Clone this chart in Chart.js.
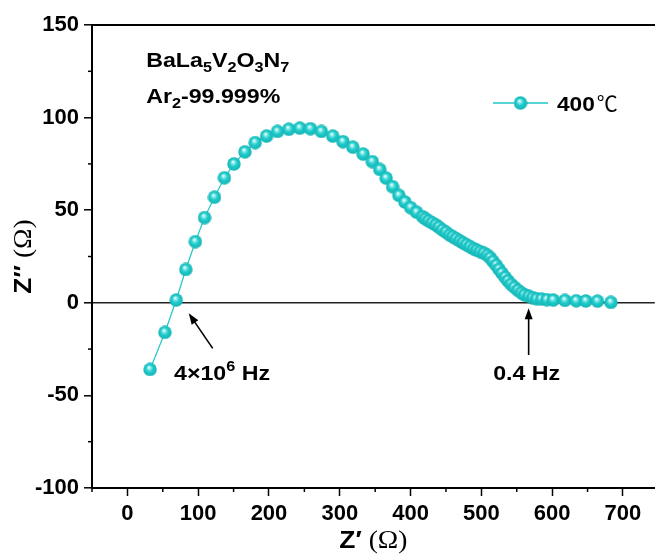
<!DOCTYPE html>
<html><head><meta charset="utf-8">
<script src="https://cdn.jsdelivr.net/npm/chart.js@4.4.1/dist/chart.umd.min.js"></script>
<style>html,body{margin:0;padding:0;background:#fff}</style>
</head><body>
<canvas id="c" width="663" height="558" style="width:663px;height:558px;display:block"></canvas>
<script>
// ---- data (Z' in ohm, Z'' in ohm) ----
const zReal = [32, 53, 69, 82.5, 96, 109, 123, 137, 150.5, 166, 180.5, 196.5, 212, 228, 243.5, 258.5, 274, 290, 304.5, 318.5,
  333, 346, 356.5, 365.5, 374.5, 383.5, 392, 400, 408.5, 417, 421, 425.5, 430.5, 435.5, 440, 445, 450, 455, 459.5, 464.5,
  469.5, 474, 479, 484, 489, 493.5, 498.5, 503.5, 508.5, 512.5, 516.5, 521, 525, 529, 533.5, 537.5, 542, 546.5, 551.5, 556.5,
  561, 567, 572.5, 578, 585, 592.5, 601.5, 618, 634, 647.5, 664, 683];
const zImag = [-36, -16, 1.5, 18, 33, 46, 57, 67.5, 75, 81.5, 86.5, 90, 92.5, 93.7, 94.3, 94, 92.5, 90, 87, 84,
  80.3, 76.2, 72, 67.3, 62.7, 58, 54.4, 51.4, 48.9, 46.5, 45.4, 44.3, 43.2, 42.1, 40.8, 39.4, 38.1, 36.7, 35.7, 34.6,
  33.5, 32.4, 31.4, 30.3, 29.2, 28.4, 27.6, 26.8, 25.7, 24.3, 22.4, 20.3, 18.1, 16, 13.8, 11.9, 10, 8.4, 6.8, 5.4,
  4.3, 3.6, 2.8, 2.2, 2.0, 1.7, 1.5, 1.3, 1.1, 1.0, 0.9, 0.2];
const seriesName = '400';
const seriesUnit = '℃';
const xTickValues = [0, 100, 200, 300, 400, 500, 600, 700];
const yTickValues = [-100, -50, 0, 50, 100, 150];
const xMinorTicks = [-50, 50, 150, 250, 350, 450, 550, 650];
const yMinorTicks = [-75, -25, 25, 75, 125];

const CYAN = '#1fc6c6';
const SANS = '"Liberation Sans", Arial, sans-serif';
const SERIF = '"Liberation Serif", "DejaVu Serif", serif';

function makeBead(d){
  const c = document.createElement('canvas'); c.width = c.height = d;
  const g = c.getContext('2d'); const r = d/2;
  const grad = g.createRadialGradient(r*0.85, r*0.7, r*0.05, r, r, r);
  grad.addColorStop(0, '#f4ffff');
  grad.addColorStop(0.2, '#86e9e9');
  grad.addColorStop(0.5, '#20cbcb');
  grad.addColorStop(1, '#15b2b2');
  g.fillStyle = grad; g.beginPath(); g.arc(r, r, r-0.3, 0, Math.PI*2); g.fill();
  return c;
}
const bead = makeBead(14);

function sText(ctx, parts, x, y, sx){
  ctx.save(); ctx.translate(x, y); ctx.scale(sx, 1);
  let cx = 0;
  for (const p of parts){ ctx.font = p.font; ctx.fillText(p.t, cx, p.dy||0); cx += ctx.measureText(p.t).width; }
  ctx.restore();
  return cx*sx;
}
function measure(ctx, parts, sx){
  let w = 0; for (const p of parts){ ctx.font = p.font; w += ctx.measureText(p.t).width; } return w*sx;
}
function arrow(ctx, x1, y1, x2, y2){
  const ang = Math.atan2(y2-y1, x2-x1), L = 11, W = 4;
  ctx.save(); ctx.strokeStyle = '#000'; ctx.fillStyle = '#000'; ctx.lineWidth = 1.6;
  ctx.beginPath(); ctx.moveTo(x1, y1); ctx.lineTo(x2 - Math.cos(ang)*L*0.8, y2 - Math.sin(ang)*L*0.8); ctx.stroke();
  ctx.beginPath(); ctx.moveTo(x2, y2);
  ctx.lineTo(x2 - Math.cos(ang)*L - Math.sin(ang)*W, y2 - Math.sin(ang)*L + Math.cos(ang)*W);
  ctx.lineTo(x2 - Math.cos(ang)*L + Math.sin(ang)*W, y2 - Math.sin(ang)*L - Math.cos(ang)*W);
  ctx.closePath(); ctx.fill(); ctx.restore();
}

const decor = {
  id: 'decor',
  afterDraw(chart){
    const ctx = chart.ctx, xs = chart.scales.x, ys = chart.scales.y;
    const X = v => xs.getPixelForValue(v), Y = v => ys.getPixelForValue(v);
    ctx.save();
    // minor ticks
    ctx.strokeStyle = '#000'; ctx.lineWidth = 1.5;
    for (const v of xMinorTicks){ const p = X(v); ctx.beginPath(); ctx.moveTo(p, xs.top); ctx.lineTo(p, xs.top + 4); ctx.stroke(); }
    for (const v of yMinorTicks){ const p = Y(v); ctx.beginPath(); ctx.moveTo(ys.right, p); ctx.lineTo(ys.right - 4, p); ctx.stroke(); }
    ctx.fillStyle = '#000'; ctx.textBaseline = 'alphabetic'; ctx.textAlign = 'left';
    const B = 'bold 20px ' + SANS, S = 'bold 14px ' + SANS, SX = 1.16;
    // sample text
    sText(ctx, [{t:'BaLa', font:B}, {t:'5', font:S, dy:5}, {t:'V', font:B}, {t:'2', font:S, dy:5},
                {t:'O', font:B}, {t:'3', font:S, dy:5}, {t:'N', font:B}, {t:'7', font:S, dy:5}], X(26.5), Y(127.2), SX);
    sText(ctx, [{t:'Ar', font:B}, {t:'2', font:S, dy:5}, {t:'-99.999%', font:B}], X(26.5), Y(107.8), SX);
    // legend
    const ly = 103;
    ctx.strokeStyle = CYAN; ctx.lineWidth = 1.5;
    ctx.beginPath(); ctx.moveTo(493, ly); ctx.lineTo(548, ly); ctx.stroke();
    ctx.drawImage(bead, 520.5 - 7, ly - 7);
    const lx = 557 + sText(ctx, [{t:seriesName, font:'bold 21px ' + SANS}], 557, 111, 1.08);
    ctx.font = '21px "Noto Sans CJK SC", "DejaVu Sans", sans-serif';
    ctx.fillText(seriesUnit, lx + 2, 111);
    // frequency annotations
    arrow(ctx, X(120.5), Y(-24.6), X(86.7), Y(-5.7));
    sText(ctx, [{t:'4×10', font:B}, {t:'6', font:S, dy:-9}, {t:' Hz', font:B}], X(65.8), Y(-41.7), SX);
    arrow(ctx, X(566.8), Y(-28.2), X(566.8), Y(-2.9));
    const w04 = measure(ctx, [{t:'0.4 Hz', font:B}], SX);
    sText(ctx, [{t:'0.4 Hz', font:B}], X(564) - w04/2, Y(-41.7), SX);
    // axis titles
    const tParts = [{t:'Z′', font:'bold 24px ' + SANS}, {t:' (', font:'25px ' + SERIF}, {t:'Ω', font:'25px ' + SERIF}, {t:')', font:'25px ' + SERIF}];
    const cxm = (chart.chartArea.left + chart.chartArea.right) / 2;
    const tw = measure(ctx, tParts, 1.1);
    sText(ctx, tParts, cxm - tw/2, 548, 1.1);
    const yParts = [{t:'Z′′', font:'bold 24px ' + SANS}, {t:' (', font:'25px ' + SERIF}, {t:'Ω', font:'25px ' + SERIF}, {t:')', font:'25px ' + SERIF}];
    const yw = measure(ctx, yParts, 1.1);
    const cym = (chart.chartArea.top + chart.chartArea.bottom) / 2;
    ctx.save(); ctx.translate(31, cym); ctx.rotate(-Math.PI/2);
    sText(ctx, yParts, -yw/2, 0, 1.1);
    ctx.restore();
    ctx.restore();
  }
};

const tickFont = {family: SANS, size: 22, weight: 'bold'};
new Chart(document.getElementById('c'), {
  type: 'scatter',
  data: { datasets: [{
    label: seriesName + seriesUnit,
    data: zReal.map((x, i) => ({x, y: zImag[i]})),
    showLine: true, borderColor: CYAN, borderWidth: 1.2,
    pointStyle: bead, pointRadius: 7, pointHoverRadius: 7
  }]},
  options: {
    responsive: false, animation: false, devicePixelRatio: 1,
    layout: {padding: 0},
    plugins: {legend: {display: false}, tooltip: {enabled: false}},
    scales: {
      x: {
        type: 'linear', position: 'bottom', min: -50, max: 745,
        afterFit: s => { s.height = 70; },
        afterBuildTicks: s => { s.ticks = xTickValues.map(v => ({value: v})); },
        ticks: {stepSize: 100, includeBounds: false, color: '#000', font: tickFont, padding: 5, maxRotation: 0},
        grid: {drawOnChartArea: false, tickLength: 8, tickWidth: 1.5, tickColor: '#000'},
        border: {display: true, color: '#000', width: 2}
      },
      x2: {
        type: 'linear', position: 'top', min: -50, max: 745,
        afterFit: s => { s.height = 25; },
        ticks: {display: false},
        grid: {drawOnChartArea: false, drawTicks: false},
        border: {display: true, color: '#000', width: 2}
      },
      y: {
        type: 'linear', position: 'left', min: -100, max: 150,
        afterFit: s => { s.width = 92; },
        afterBuildTicks: s => { s.ticks = yTickValues.map(v => ({value: v})); },
        ticks: {stepSize: 50, color: '#000', font: tickFont, padding: 5},
        grid: {drawOnChartArea: true, tickLength: 8, tickWidth: 1.5, tickColor: '#000',
               color: c => (c.tick && c.tick.value === 0) ? '#222' : 'rgba(0,0,0,0)', lineWidth: 1.6},
        border: {display: true, color: '#000', width: 2}
      }
    }
  },
  plugins: [decor]
});
</script>
</body></html>
